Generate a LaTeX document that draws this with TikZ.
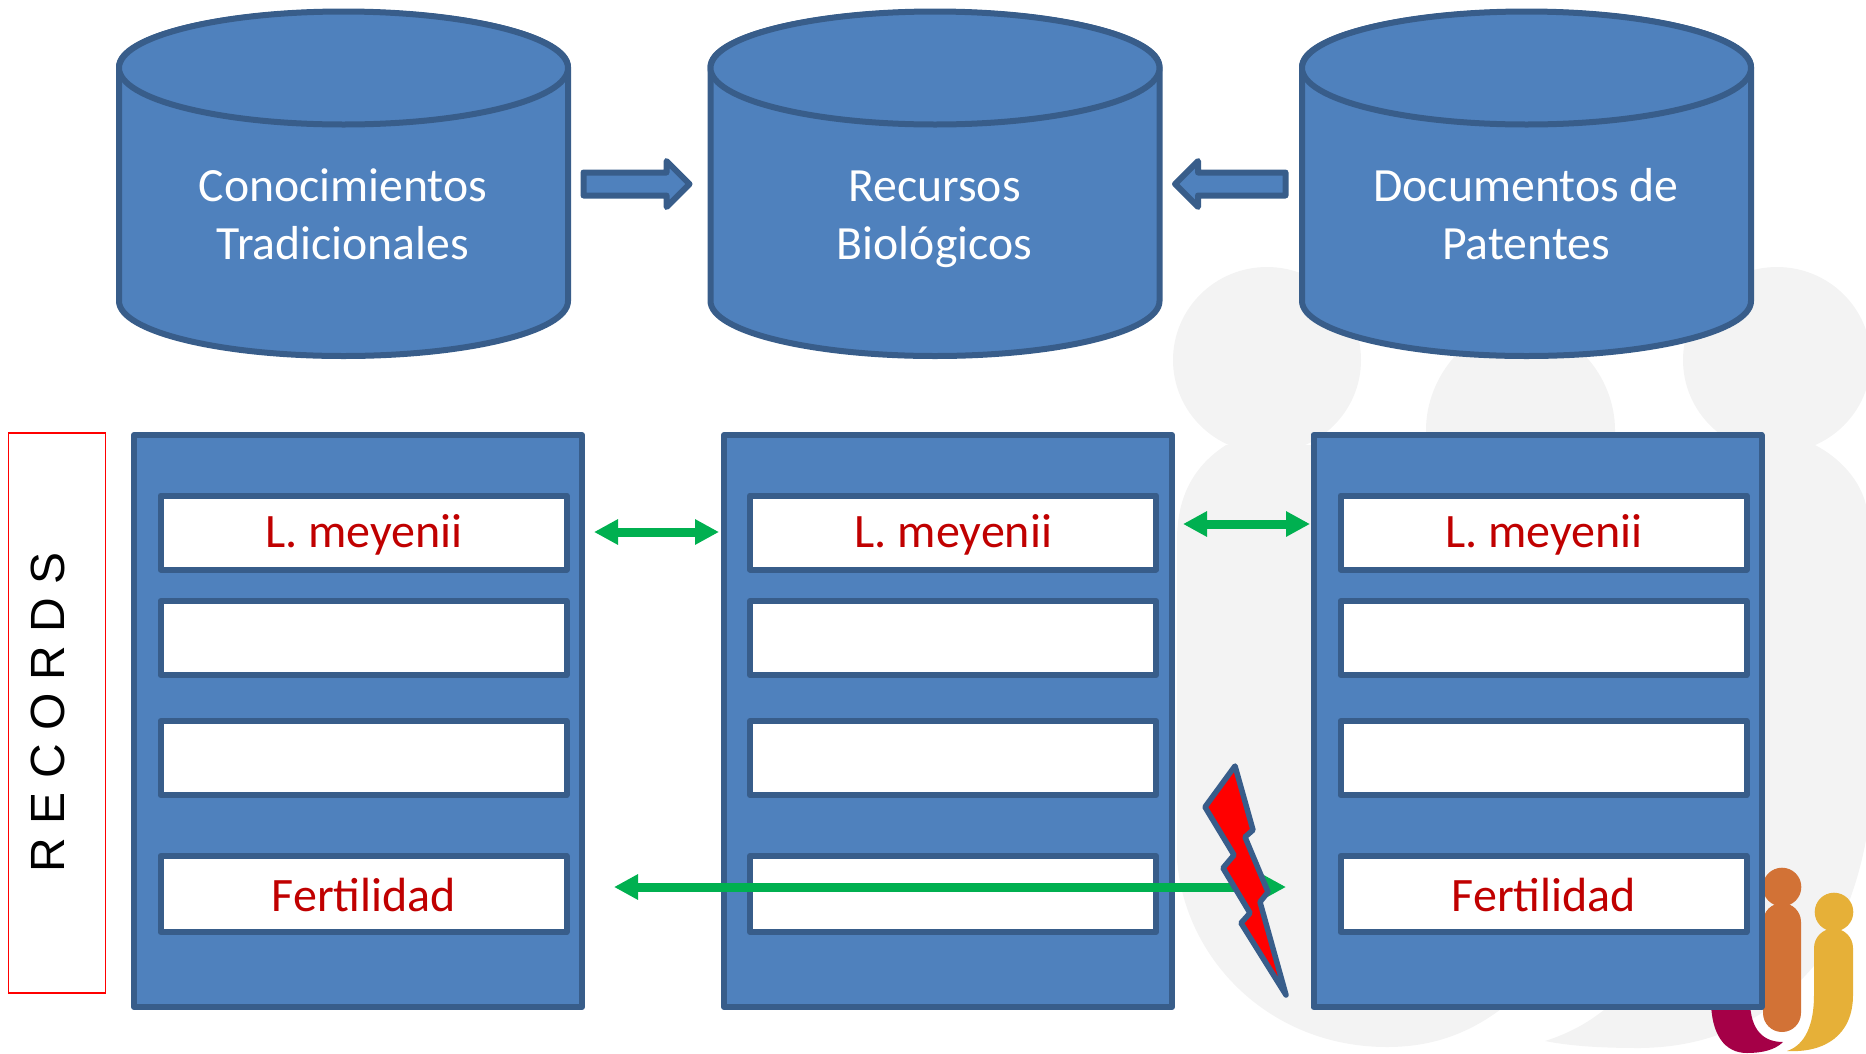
\documentclass[tikz,border=0pt]{standalone}
\usepackage{fontspec}
\setmainfont{Carlito}
\newfontfamily\arialfont{Liberation Sans}
\usetikzlibrary{arrows.meta}
\definecolor{blueF}{HTML}{4F81BD}
\definecolor{blueL}{HTML}{385D8A}
\definecolor{greenA}{HTML}{00B050}
\definecolor{redT}{HTML}{C00000}
\definecolor{grayP}{HTML}{F3F3F3}
\definecolor{maroonL}{HTML}{A50047}
\definecolor{orangeL}{HTML}{D27236}
\definecolor{yellowL}{HTML}{E6B038}
\tikzset{
  solidblue/.style={fill=blueF,draw=blueL,line width=6pt,line join=round},
  panel/.style={solidblue,rectangle,minimum width=448pt,minimum height=572pt,outer sep=0pt,inner sep=0pt},
  slot/.style={fill=white,draw=blueL,line width=6pt,line join=round,rectangle,minimum width=406pt,outer sep=0pt,inner sep=0pt},
  slottext/.style={text=redT,font=\fontsize{48}{50}\selectfont,inner sep=0pt},
  cyltext/.style={text=white,align=center,font=\fontsize{47.7}{58}\selectfont,inner sep=0pt},
  link/.style={draw=greenA,line width=9pt,{Triangle[length=24pt,width=24pt]}-{Triangle[length=24pt,width=24pt]},shorten <=0pt,shorten >=0pt}
}
\begin{document}
\begin{tikzpicture}[x=1pt,y=-1pt]
\useasboundingbox (0,0) rectangle (1866,1053);
\begin{scope}
\clip (0,0) rectangle (1866,1053);
% background figures
\fill[grayP] (1267,360) ellipse [x radius=94pt,y radius=93pt];
\fill[grayP] (1777,360) ellipse [x radius=94pt,y radius=93pt];
\fill[grayP] (1426,500) -- (1426,430) .. controls (1426,375) and (1470,325) .. (1520,325) .. controls (1570,325) and (1615,375) .. (1615,430) -- (1615,500) -- cycle;
\fill[grayP] (1226,445) .. controls (1195,465) and (1177,495) .. (1177,540) -- (1177,860)
  .. controls (1185,960) and (1270,1047) .. (1387,1047)
  .. controls (1430,1047) and (1470,1035) .. (1510,1002) -- (1600,600) -- (1400,445) -- cycle;
\fill[grayP] (1815,445) .. controls (1840,458) and (1860,480) .. (1866,505) -- (1866,840)
  .. controls (1855,900) and (1830,950) .. (1813,967)
  .. controls (1780,1005) and (1730,1047) .. (1640,1048)
  .. controls (1610,1048) and (1575,1047) .. (1545,1041)
  .. controls (1570,1033) and (1590,1022) .. (1610,1005) -- (1700,445) -- cycle;
% logo figures
\fill[maroonL] (1711,1000) .. controls (1711,1035) and (1725,1053) .. (1747,1053)
  .. controls (1762,1053) and (1775,1050) .. (1783,1042)
  .. controls (1765,1042) and (1750,1032) .. (1750,1000) -- cycle;
\fill[orangeL] (1782,887) circle [radius=19.3pt];
\fill[orangeL] (1763,922) arc [start angle=180,end angle=0,radius=19pt] -- (1801,1013) arc [start angle=0,end angle=-180,radius=19pt] -- cycle;
\fill[yellowL] (1834,912) circle [radius=19.3pt];
\fill[yellowL] (1814,948) arc [start angle=180,end angle=0,radius=19.5pt] -- (1853,995)
  .. controls (1853,1035) and (1825,1053) .. (1787,1051)
  .. controls (1805,1045) and (1814,1025) .. (1814,995) -- cycle;
\end{scope}
% cylinders
\foreach \name/\dx/\lineA/\lineB in {kt/0/Conocimientos/Tradicionales,rb/591.5/Recursos/Biológicos,dp/1183/Documentos de/Patentes}{
  \begin{scope}[xshift=\dx pt]
    \path[solidblue] (119,67) -- (119,301) arc [start angle=180,end angle=360,x radius=224.5pt,y radius=55pt] -- (568,67) arc [start angle=0,end angle=180,x radius=224.5pt,y radius=55pt] -- cycle;
    \path[solidblue] (343.5,68) ellipse [x radius=224.5pt,y radius=56.5pt];
    \node[cyltext] (\name) at (343,218.5) {\strut\lineA\\\strut\lineB};
  \end{scope}
}
% panels and slots
\foreach \c/\px/\sx in {a/358/363.5,b/948/953,c/1537.5/1543.5}{
  \node[panel] (panel\c) at (\px,721) {};
  \node[slot,minimum height=74pt] (\c1) at (\sx,532.5) {};
  \node[slot,minimum height=74pt] (\c2) at (\sx,638) {};
  \node[slot,minimum height=74pt] (\c3) at (\sx,758) {};
  \node[slot,minimum height=76pt] (\c4) at (\sx,894) {};
}
\node[slottext] (t1) at (364,535) {L. meyenii};
\node[slottext] (t2) at (953.5,535) {L. meyenii};
\node[slottext] (t3) at (1544,535) {L. meyenii};
\node[slottext] (t4) at (364,895) {Fertilidad};
\node[slottext] (t5) at (1544,895) {Fertilidad};
% block arrows
\path[solidblue] (583.5,172.5) -- (666.5,172.5) -- (666.5,161) -- (689.5,184) -- (666.5,207) -- (666.5,195.5) -- (583.5,195.5) -- cycle;
\path[solidblue] (1285.5,172.5) -- (1198,172.5) -- (1198,161) -- (1175,184) -- (1198,207) -- (1198,195.5) -- (1285.5,195.5) -- cycle;
% green links
\coordinate (la) at (594,532);
\coordinate (lb) at (719,532);
\coordinate (lc) at (1183,524);
\coordinate (ld) at (1310,524);
\coordinate (le) at (614,887);
\coordinate (lf) at (1286,887);
\draw[link] (la) -- (lb);
\draw[link] (lc) -- (ld);
\draw[link] (le) -- (lf);
% bolt
\path[fill=red,draw=blueL,line width=5.5pt,line join=round]
  (1235,766) -- (1205,807) -- (1234,855) -- (1223,868) -- (1250,913) -- (1241,923) -- (1286,995) -- (1260,902) -- (1268,892) -- (1245,837) -- (1253,830) -- cycle;
% records
\node[draw=red,line width=1.5pt,minimum width=97pt,minimum height=560pt,inner sep=0pt,outer sep=0pt,rectangle] (recbox) at (57,713) {};
\node[rotate=90,inner sep=0pt,font=\arialfont\fontsize{48}{50}\selectfont] (rec) at (48,712) {R E C O R D S};
\end{tikzpicture}
\end{document}
